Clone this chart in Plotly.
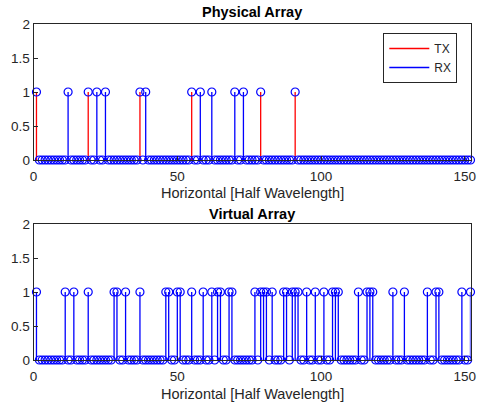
import plotly.graph_objects as go

# ---------------- data ----------------
N_POS = 152
tx_positions = [1, 19, 37, 55, 79, 91]
rx_positions = [12, 22, 25, 39, 58, 62, 70, 73]
virtual_positions = [1, 11, 14, 19, 28, 29, 32, 37, 46, 47, 50, 51, 55, 59, 62,
                     64, 65, 68, 69, 77, 79, 80, 81, 83, 87, 88, 90, 91, 92, 95,
                     98, 101, 104, 105, 106, 113, 116, 117, 118, 125, 129, 137,
                     140, 141, 149, 152]
x_ticks = [0, 50, 100, 150]
y_ticks = [0, 0.5, 1, 1.5, 2]
titles = ["Physical Array", "Virtual Array"]
x_label = "Horizontal [Half Wavelength]"

W, H = 478, 402
FONT = "Arial, Liberation Sans, Helvetica, sans-serif"
AX = "#262626"
BLUE = "#0000ff"
RED = "#ff0000"
STEM_W = 1.3


def stem_xy(positions):
    xs, ys = [], []
    for p in positions:
        xs += [p, p, None]
        ys += [0, 1, None]
    return xs, ys


positions_all = list(range(1, N_POS + 1))
phys_set = set(tx_positions) | set(rx_positions)
phys_vals = [1 if p in phys_set else 0 for p in positions_all]
virt_set = set(virtual_positions)
virt_vals = [1 if p in virt_set else 0 for p in positions_all]

fig = go.Figure()

# top: physical array
x, y = stem_xy(tx_positions)
fig.add_trace(go.Scatter(x=x, y=y, mode="lines", name="TX",
                         line=dict(color=RED, width=STEM_W), xaxis="x", yaxis="y"))
x, y = stem_xy(rx_positions)
fig.add_trace(go.Scatter(x=x, y=y, mode="lines", name="RX",
                         line=dict(color=BLUE, width=STEM_W), xaxis="x", yaxis="y"))
fig.add_trace(go.Scatter(x=positions_all, y=phys_vals, mode="markers",
                         showlegend=False, cliponaxis=False,
                         marker=dict(symbol="circle-open", size=8,
                                     color=BLUE, line=dict(width=1.2, color=BLUE)),
                         xaxis="x", yaxis="y"))

# bottom: virtual array
x, y = stem_xy(virtual_positions)
fig.add_trace(go.Scatter(x=x, y=y, mode="lines", showlegend=False,
                         line=dict(color=BLUE, width=STEM_W), xaxis="x2", yaxis="y2"))
fig.add_trace(go.Scatter(x=positions_all, y=virt_vals, mode="markers",
                         showlegend=False, cliponaxis=False,
                         marker=dict(symbol="circle-open", size=8,
                                     color=BLUE, line=dict(width=1.2, color=BLUE)),
                         xaxis="x2", yaxis="y2"))

x_dom = [33.6 / W, 470.5 / W]
top_dom = [1 - 160 / H, 1 - 24 / H]
bot_dom = [1 - 360 / H, 1 - 224 / H]

axis_common = dict(showgrid=False, zeroline=False, showline=True, mirror=True,
                   linecolor=AX, linewidth=1, ticks="inside", ticklen=4,
                   tickcolor=AX, automargin=False,
                   tickfont=dict(family=FONT, size=13.5, color=AX))

fig.update_layout(
    width=W, height=H,
    margin=dict(l=0, r=0, t=0, b=0, pad=0, autoexpand=False),
    paper_bgcolor="white", plot_bgcolor="white",
    showlegend=True,
    xaxis=dict(domain=x_dom, range=[0, N_POS], tickvals=x_ticks,
               anchor="y", ticklabelstandoff=4, **axis_common),
    yaxis=dict(domain=top_dom, range=[0, 2], tickvals=y_ticks,
               anchor="x", **axis_common),
    xaxis2=dict(domain=x_dom, range=[0, N_POS], tickvals=x_ticks,
                anchor="y2", ticklabelstandoff=4, **axis_common),
    yaxis2=dict(domain=bot_dom, range=[0, 2], tickvals=y_ticks,
                anchor="x2", **axis_common),
    legend=dict(x=383.3 / W, y=1 - 33 / H, xanchor="left", yanchor="top",
                bgcolor="white", bordercolor=AX, borderwidth=1,
                font=dict(family=FONT, size=12, color=AX),
                itemwidth=40, tracegroupgap=0),
)

xc = (x_dom[0] + x_dom[1]) / 2
annotations = [
    dict(text="<b>" + titles[0] + "</b>", x=xc, y=1 - 12 / H),
    dict(text="<b>" + titles[1] + "</b>", x=xc, y=1 - 214 / H),
    dict(text=x_label, x=xc, y=1 - 193 / H),
    dict(text=x_label, x=xc, y=1 - 394 / H),
]
for a in annotations:
    fig.add_annotation(xref="paper", yref="paper", showarrow=False,
                       xanchor="center", yanchor="middle",
                       font=dict(family=FONT, size=14.5,
                                 color="#000000" if "<b>" in a["text"] else AX),
                       **a)

fig.write_html("out.html")
